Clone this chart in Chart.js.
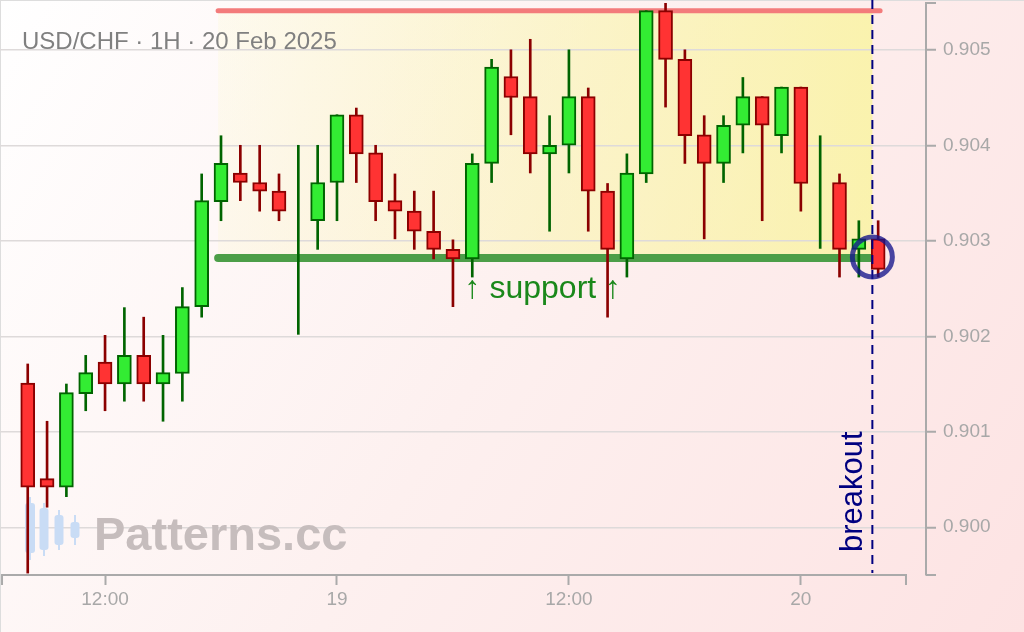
<!DOCTYPE html>
<html>
<head>
<meta charset="utf-8">
<title>USD/CHF 1H</title>
<script src="https://cdn.jsdelivr.net/npm/chart.js@4.4.1/dist/chart.umd.min.js"></script>
<style>
  html, body { margin: 0; padding: 0; background: #fff; }
  canvas { display: block; }
</style>
</head>
<body>
<canvas id="chart" width="1024" height="632"></canvas>
<script>
// hourly candles, 18 Feb 08:00 -> 20 Feb 04:00 (hours counted from 18 Feb 00:00)
const hours = [8, 9, 10, 11, 12, 13, 14, 15, 16, 17, 18, 19, 20, 21, 22, 23, 24, 25, 26, 27, 28, 29, 30,
  31, 32, 33, 34, 35, 36, 37, 38, 39, 40, 41, 42, 43, 44, 45, 46, 47, 48, 49, 50, 51, 52];

const opens = [0.90151, 0.90051, 0.90042, 0.90140, 0.90173, 0.90150, 0.90180, 0.90150, 0.90161, 0.90231,
  0.90341, 0.90371, 0.90361, 0.90352, 0.90300, 0.90321, 0.90361, 0.90432, 0.90392, 0.90342,
  0.90331, 0.90310, 0.90291, 0.90281, 0.90381, 0.90472, 0.90451, 0.90391, 0.90400, 0.90451,
  0.90352, 0.90281, 0.90370, 0.90541, 0.90490, 0.90411, 0.90381, 0.90421, 0.90451, 0.90410,
  0.90461, 0.90350, 0.90361, 0.90291, 0.90302];
const highs = [0.90171, 0.90111, 0.90150, 0.90180, 0.90201, 0.90230, 0.90220, 0.90201, 0.90251, 0.90370,
  0.90410, 0.90400, 0.90400, 0.90370, 0.90400, 0.90400, 0.90432, 0.90439, 0.90400, 0.90370,
  0.90352, 0.90352, 0.90301, 0.90391, 0.90490, 0.90500, 0.90511, 0.90431, 0.90500, 0.90460,
  0.90360, 0.90391, 0.90541, 0.90550, 0.90500, 0.90431, 0.90431, 0.90471, 0.90451, 0.90461,
  0.90461, 0.90410, 0.90370, 0.90321, 0.90321];
const lows = [0.89952, 0.90021, 0.90032, 0.90122, 0.90122, 0.90132, 0.90132, 0.90111, 0.90132, 0.90220,
  0.90321, 0.90342, 0.90331, 0.90321, 0.90202, 0.90291, 0.90321, 0.90361, 0.90321, 0.90302,
  0.90291, 0.90281, 0.90231, 0.90262, 0.90361, 0.90411, 0.90371, 0.90310, 0.90371, 0.90310,
  0.90220, 0.90262, 0.90361, 0.90440, 0.90381, 0.90302, 0.90361, 0.90392, 0.90321, 0.90392,
  0.90331, 0.90292, 0.90262, 0.90262, 0.90262];
const closes = [0.90042, 0.90042, 0.90141, 0.90162, 0.90150, 0.90180, 0.90150, 0.90162, 0.90231, 0.90342,
  0.90381, 0.90361, 0.90352, 0.90331, 0.90300, 0.90361, 0.90432, 0.90391, 0.90341, 0.90331,
  0.90310, 0.90291, 0.90281, 0.90381, 0.90482, 0.90450, 0.90391, 0.90400, 0.90451, 0.90352,
  0.90291, 0.90371, 0.90541, 0.90490, 0.90410, 0.90381, 0.90421, 0.90451, 0.90421, 0.90461,
  0.90360, 0.90350, 0.90291, 0.90302, 0.90270];

const xTickValues = [12, 24, 36, 48];
const xTickLabels = ["12:00", "19", "12:00", "20"];
const yTickValues = [0.900, 0.901, 0.902, 0.903, 0.904, 0.905];

// pattern levels
const resistance = 0.90541;
const support = 0.90282;
const zoneStart = 17.85;
const breakoutHour = 51.7;
const levelEnd = 52.1;

const FONT = "'Liberation Sans', Arial, sans-serif";
const AXIS_GREY = "#aaaaaa";

const isUp = i => closes[i] >= opens[i];
const bodyFill = hours.map((_, i) => isUp(i) ? "#33ec33" : "#ff3333");
const edgeColor = hours.map((_, i) => isUp(i) ? "#006400" : "#8b0000");

const decor = {
  id: "decor",
  beforeDraw(chart) {
    const { ctx, width, height } = chart;
    const { x, y } = chart.scales;
    ctx.save();
    const bg = ctx.createLinearGradient(0, 0, width, height);
    bg.addColorStop(0, "#ffffff");
    bg.addColorStop(0.5, "#fdf0ef");
    bg.addColorStop(1, "#fde3e3");
    ctx.fillStyle = bg;
    ctx.fillRect(0, 0, width, height);

    // thin frame on top/left
    ctx.strokeStyle = "#dddddd";
    ctx.lineWidth = 1;
    ctx.beginPath();
    ctx.moveTo(0, 0.5); ctx.lineTo(width, 0.5);
    ctx.moveTo(0.5, 0); ctx.lineTo(0.5, height);
    ctx.stroke();

    // consolidation zone
    const x0 = x.getPixelForValue(zoneStart);
    const x1 = x.getPixelForValue(breakoutHour);
    const yTop = y.getPixelForValue(resistance);
    const yBot = y.getPixelForValue(support);
    const zone = ctx.createLinearGradient(x0, 0, x1, 0);
    zone.addColorStop(0, "rgba(249,247,157,0.12)");
    zone.addColorStop(1, "rgba(249,245,150,0.72)");
    ctx.fillStyle = zone;
    ctx.fillRect(x0, yTop, x1 - x0, yBot - yTop);
    ctx.restore();
  },
  beforeDatasetsDraw(chart) {
    const { ctx } = chart;
    const { x, y } = chart.scales;
    ctx.save();

    // watermark
    ctx.fillStyle = "#c9dcf5";
    ctx.strokeStyle = "#c9dcf5";
    const icon = [[30, 497, 560, 503, 553, 10], [44, 503, 556, 508, 550, 9], [59, 510, 550, 515, 545, 9], [75, 515, 545, 522, 538, 9]];
    icon.forEach(([cx, w0, w1, b0, b1, bw]) => {
      ctx.lineWidth = 2;
      ctx.beginPath(); ctx.moveTo(cx, w0); ctx.lineTo(cx, w1); ctx.stroke();
      ctx.beginPath(); ctx.roundRect(cx - bw / 2, b0, bw, b1 - b0, 3); ctx.fill();
    });
    ctx.font = "bold 47px " + FONT;
    ctx.fillStyle = "#c6bdbd";
    ctx.textBaseline = "alphabetic";
    ctx.fillText("Patterns.cc", 94, 550);

    // resistance and support lines
    ctx.lineCap = "round";
    ctx.strokeStyle = "#f37b7b";
    ctx.lineWidth = 5;
    ctx.beginPath();
    ctx.moveTo(x.getPixelForValue(zoneStart), y.getPixelForValue(resistance));
    ctx.lineTo(x.getPixelForValue(levelEnd), y.getPixelForValue(resistance));
    ctx.stroke();
    ctx.strokeStyle = "#4c9e48";
    ctx.lineWidth = 8;
    ctx.beginPath();
    ctx.moveTo(x.getPixelForValue(zoneStart), y.getPixelForValue(support));
    ctx.lineTo(x.getPixelForValue(levelEnd), y.getPixelForValue(support));
    ctx.stroke();

    // axis domain lines with end caps
    ctx.lineCap = "butt";
    ctx.strokeStyle = AXIS_GREY;
    ctx.lineWidth = 2;
    const xa = x.getPixelForValue(6.67), xb = x.getPixelForValue(53.44);
    const yb = chart.chartArea.bottom, yt = chart.chartArea.top, yr = chart.chartArea.right;
    ctx.beginPath();
    ctx.moveTo(xa, yb + 10); ctx.lineTo(xa, yb); ctx.lineTo(xb, yb); ctx.lineTo(xb, yb + 10);
    ctx.moveTo(yr, yt); ctx.lineTo(yr + 10, yt);
    ctx.moveTo(yr, yb); ctx.lineTo(yr + 10, yb);
    ctx.stroke();
    ctx.restore();
  },
  afterDatasetsDraw(chart) {
    const { ctx } = chart;
    const { x, y } = chart.scales;
    const bx = x.getPixelForValue(breakoutHour);
    const sy = y.getPixelForValue(support);
    ctx.save();

    // breakout marker
    ctx.strokeStyle = "#000080";
    ctx.lineWidth = 2;
    ctx.setLineDash([9, 6]);
    ctx.beginPath();
    ctx.moveTo(bx, 0); ctx.lineTo(bx, chart.chartArea.bottom - 2);
    ctx.stroke();
    ctx.setLineDash([]);

    ctx.strokeStyle = "rgba(20,20,140,0.78)";
    ctx.lineWidth = 5;
    ctx.beginPath();
    ctx.arc(bx, sy - 1, 20, 0, Math.PI * 2);
    ctx.stroke();

    ctx.save();
    ctx.translate(bx - 10, 552);
    ctx.rotate(-Math.PI / 2);
    ctx.font = "31px " + FONT;
    ctx.fillStyle = "#000080";
    ctx.textAlign = "left";
    ctx.textBaseline = "alphabetic";
    ctx.fillText("breakout", 0, 0);
    ctx.restore();

    // support label
    ctx.font = "32px " + FONT;
    ctx.fillStyle = "#1a881a";
    ctx.textAlign = "center";
    ctx.textBaseline = "alphabetic";
    ctx.fillText("\u2191 support \u2191", x.getPixelForValue(34.65), sy + 40);

    // title
    ctx.font = "24px " + FONT;
    ctx.fillStyle = "#808080";
    ctx.textAlign = "left";
    ctx.fillText("USD/CHF \u00b7 1H \u00b7 20 Feb 2025", 22, 49);
    ctx.restore();
  }
};

const ctx = document.getElementById("chart").getContext("2d");

new Chart(ctx, {
  type: "bar",
  data: {
    datasets: [
      {
        label: "wick",
        data: hours.map((h, i) => ({ x: h, y: [lows[i], highs[i]] })),
        backgroundColor: edgeColor,
        borderWidth: 0,
        barThickness: 2,
        grouped: false,
        order: 2
      },
      {
        label: "body",
        data: hours.map((h, i) => ({ x: h, y: [opens[i], closes[i]] })),
        backgroundColor: bodyFill,
        borderColor: edgeColor,
        borderWidth: 2,
        borderSkipped: false,
        barThickness: 14,
        grouped: false,
        order: 1
      }
    ]
  },
  options: {
    responsive: false,
    animation: false,
    devicePixelRatio: 1,
    layout: { padding: { top: 3, left: 0, right: 0, bottom: 0 } },
    plugins: {
      legend: { display: false },
      tooltip: { enabled: false }
    },
    scales: {
      x: {
        type: "linear",
        min: 6.565,
        max: 54.475,
        offset: false,
        afterBuildTicks: s => { s.ticks = xTickValues.map(v => ({ value: v })); },
        afterFit: s => { s.height = 57; s.paddingLeft = 0; s.paddingRight = 0; },
        grid: {
          display: true,
          offset: false,
          drawOnChartArea: false,
          drawTicks: true,
          tickLength: 10,
          tickColor: AXIS_GREY,
          tickWidth: 2
        },
        border: { display: false },
        ticks: {
          padding: 3,
          maxRotation: 0,
          color: "#a8a8a8",
          font: { family: FONT, size: 19 },
          callback: v => xTickLabels[xTickValues.indexOf(v)]
        }
      },
      y: {
        type: "linear",
        position: "right",
        min: 0.8995,
        max: 0.90549,
        afterBuildTicks: s => { s.ticks = yTickValues.map(v => ({ value: v })); },
        afterFit: s => { s.width = 98; s.paddingTop = 0; s.paddingBottom = 0; },
        grid: {
          color: "#dedada",
          lineWidth: 1.5,
          tickLength: 10,
          tickColor: AXIS_GREY,
          tickWidth: 2
        },
        border: { display: true, color: AXIS_GREY, width: 2 },
        ticks: {
          padding: 7,
          color: "#a8a8a8",
          font: { family: FONT, size: 19 },
          callback: v => v.toFixed(3)
        }
      }
    }
  },
  plugins: [decor]
});
</script>
</body>
</html>
